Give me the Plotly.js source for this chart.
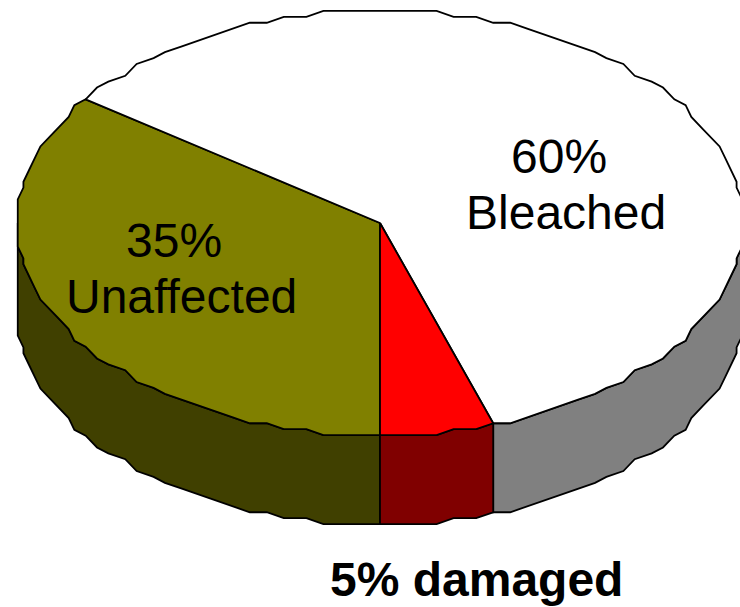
<!DOCTYPE html>
<html><head><meta charset="utf-8">
<script src="https://cdn.plot.ly/plotly-3.0.1.min.js"></script>
<style>html,body{margin:0;padding:0;background:#fff}#c{width:740px;height:607px}</style>
</head><body><div id="c"></div>
<script>
// Data, clockwise from the slice boundary at the bottom of the pie
const sliceNames  = ['Unaffected', 'Bleached', 'damaged'];
const sliceValues = [35, 60, 5];
const topColors   = ['#808000', '#ffffff', '#ff0000'];
const sideColors  = ['#404000', '#808080', '#800000'];
const startAngle  = 180; // degrees clockwise from 12 o'clock

// Tilted pie projection in axis units
const cx = 380, cy = 223, rx = 362, ry = 212, depth = 89;
const stepDeg = 3, gridX = 5.66, gridY = 5.89;

function rim(a) {
  const t = a * Math.PI / 180;
  const x = rx * Math.sin(t), y = -ry * Math.cos(t);
  return [cx + Math.round(x / gridX) * gridX, cy + Math.round(y / gridY) * gridY];
}
function arc(a0, a1) {
  const pts = [];
  const n = Math.max(1, Math.round((a1 - a0) / stepDeg));
  for (let i = 0; i <= n; i++) pts.push(rim(a0 + (a1 - a0) * i / n));
  return pts;
}
function poly(pts, fill) {
  const xs = pts.map(p => p[0]), ys = pts.map(p => p[1]);
  xs.push(xs[0]); ys.push(ys[0]);
  return {type: 'scatter', mode: 'lines', x: xs, y: ys, fill: 'toself', fillcolor: fill,
          line: {color: '#000', width: 1.8}, hoverinfo: 'skip', showlegend: false};
}

const total = sliceValues.reduce((a, b) => a + b, 0);
const sides = [], tops = [];
let a = startAngle;
sliceValues.forEach((v, i) => {
  const a0 = a, a1 = a + v / total * 360;
  a = a1;
  tops.push(poly([[cx, cy]].concat(arc(a0, a1)), topColors[i]));
  // the visible wall runs along the front half of the rim, 90..270 degrees
  [[a0, a1], [a0 - 360, a1 - 360]].forEach(([s, e]) => {
    const lo = Math.max(s, 90), hi = Math.min(e, 270);
    if (hi > lo) {
      const front = arc(lo, hi);
      const back = front.slice().reverse().map(p => [p[0], p[1] + depth]);
      sides.push(poly(front.concat(back), sideColors[i]));
    }
  });
});

const font = {family: 'Liberation Sans, Arial, sans-serif', size: 48, color: '#000'};
const labels = [
  {t: '60%', x: 559, y: 156}, {t: 'Bleached', x: 566, y: 212},
  {t: '35%', x: 174, y: 240}, {t: 'Unaffected', x: 181, y: 296},
  {t: '<b>5% damaged</b>', x: 476, y: 579}
];
const annotations = labels.map(l => ({text: l.t, x: l.x, y: l.y, xref: 'x', yref: 'y',
  showarrow: false, xanchor: 'center', yanchor: 'middle', font: font}));

const axis = {visible: false, fixedrange: true, showgrid: false, zeroline: false};
Plotly.newPlot('c', sides.concat(tops), {
  width: 740, height: 607, margin: {l: 0, r: 0, t: 0, b: 0},
  paper_bgcolor: '#fff', plot_bgcolor: '#fff', showlegend: false, hovermode: false,
  xaxis: Object.assign({range: [0, 740]}, axis),
  yaxis: Object.assign({range: [607, 0]}, axis),
  annotations: annotations
}, {displayModeBar: false, staticPlot: true});
</script></body></html>
